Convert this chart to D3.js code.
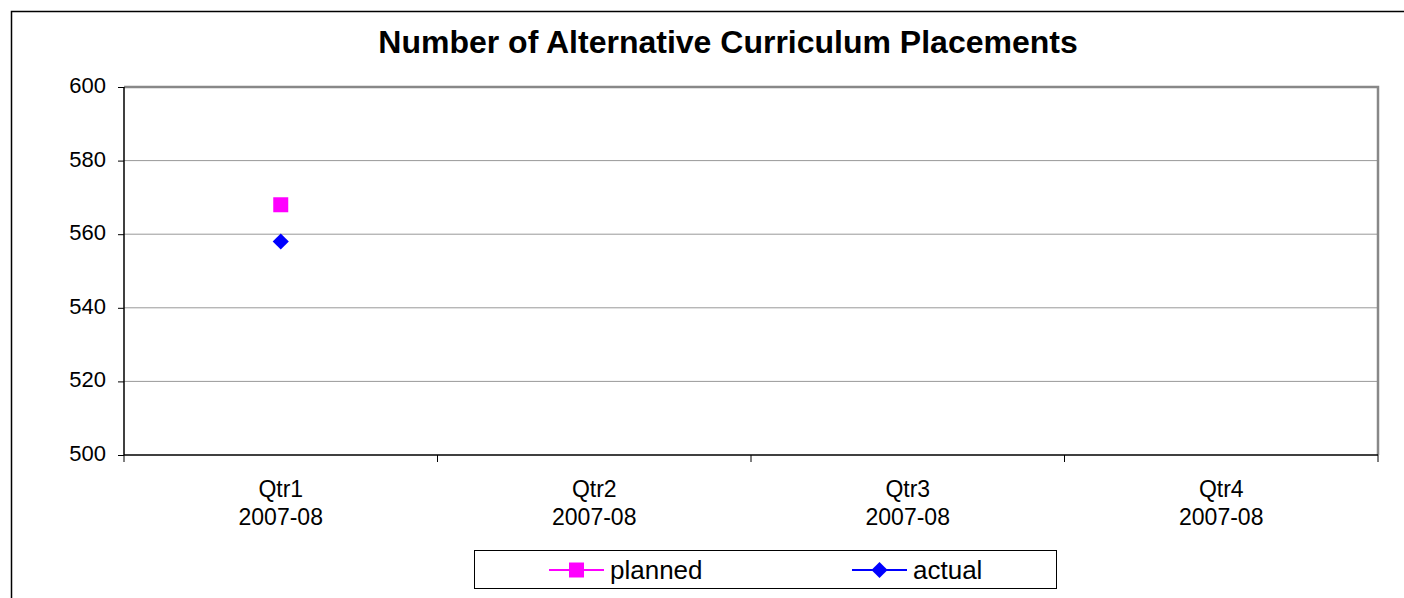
<!DOCTYPE html>
<html>
<head>
<meta charset="utf-8">
<script src="https://cdn.jsdelivr.net/npm/d3@7"></script>
<style>
  body { margin: 0; background: #fff; }
  text { font-family: Arial, "Liberation Sans", sans-serif; }
</style>
</head>
<body>
<svg id="chart" width="1404" height="598"></svg>
<script>
var categories = ["Qtr1|2007-08", "Qtr2|2007-08", "Qtr3|2007-08", "Qtr4|2007-08"];
var planned = [568, null, null, null];
var actual = [558, null, null, null];
var yTicks = [500, 520, 540, 560, 580, 600];
var seriesNames = ["planned", "actual"];
var seriesColors = ["#FF00FF", "#0000FF"];

var width = 1404, height = 598;
var margin = {left: 124, top: 87, right: 1378, bottom: 455};

var svg = d3.select("#chart");

// outer chart border (runs off right and bottom)
svg.append("rect")
    .attr("x", 11.5).attr("y", 11.5)
    .attr("width", width + 20).attr("height", height + 20)
    .attr("fill", "none").attr("stroke", "black").attr("stroke-width", 1.5);

svg.append("text")
    .attr("x", 728).attr("y", 53)
    .attr("text-anchor", "middle")
    .style("font-size", "32px").style("font-weight", "bold")
    .text("Number of Alternative Curriculum Placements");

var x = d3.scaleBand().domain(categories).range([margin.left, margin.right]);
var y = d3.scaleLinear().domain([500, 600]).range([margin.bottom, margin.top]);

// gridlines
svg.selectAll(".grid").data(yTicks.filter(function(d) { return d > 500 && d < 600; }))
    .enter().append("line")
    .attr("x1", margin.left).attr("x2", margin.right)
    .attr("y1", function(d) { return y(d); }).attr("y2", function(d) { return y(d); })
    .attr("stroke", "#999").attr("stroke-width", 1);

// plot frame top + right (gray)
svg.append("path")
    .attr("d", "M" + margin.left + "," + y(600) + "H" + margin.right + "V" + margin.bottom)
    .attr("fill", "none").attr("stroke", "#888").attr("stroke-width", 2.5);

// y axis
var yAxis = svg.append("g")
    .attr("transform", "translate(" + margin.left + ",0)")
    .call(d3.axisLeft(y).tickValues(yTicks).tickSize(6).tickPadding(12).tickFormat(d3.format("d")));
yAxis.select(".domain").attr("stroke", "black").attr("stroke-width", 1.5).attr("d", "M0," + y(600) + "V" + y(500));
yAxis.selectAll("line").attr("stroke", "black");
yAxis.selectAll("text").style("font-size", "22px").attr("fill", "black").attr("dy", "0.25em");

// x axis
var xAxis = svg.append("g")
    .attr("transform", "translate(0," + margin.bottom + ")");
xAxis.append("line")
    .attr("x1", margin.left).attr("x2", margin.right)
    .attr("stroke", "black").attr("stroke-width", 1.5);
var bounds = categories.map(function(c) { return x(c); }).concat([margin.right]);
xAxis.selectAll(".tick").data(bounds).enter().append("line")
    .attr("x1", function(d) { return d; }).attr("x2", function(d) { return d; })
    .attr("y1", 0).attr("y2", 7)
    .attr("stroke", "black");
var lbl = xAxis.selectAll(".lbl").data(categories).enter().append("text")
    .attr("text-anchor", "middle")
    .attr("x", function(d) { return x(d) + x.bandwidth() / 2; })
    .style("font-size", "23px");
lbl.append("tspan").attr("x", function(d) { return x(d) + x.bandwidth() / 2; })
    .attr("y", 42).text(function(d) { return d.split("|")[0]; });
lbl.append("tspan").attr("x", function(d) { return x(d) + x.bandwidth() / 2; })
    .attr("y", 70).text(function(d) { return d.split("|")[1]; });

var symSquare = d3.symbol().type(d3.symbolSquare).size(225);
var symDiamond = d3.symbol().type(d3.symbolSquare).size(130);

// markers
svg.selectAll(".planned").data(planned.map(function(v, i) { return {c: categories[i], v: v}; }).filter(function(d) { return d.v != null; }))
    .enter().append("path")
    .attr("d", symSquare)
    .attr("transform", function(d) { return "translate(" + (x(d.c) + x.bandwidth() / 2) + "," + y(d.v) + ")"; })
    .attr("fill", seriesColors[0]);

svg.selectAll(".actual").data(actual.map(function(v, i) { return {c: categories[i], v: v}; }).filter(function(d) { return d.v != null; }))
    .enter().append("path")
    .attr("d", symDiamond)
    .attr("transform", function(d) { return "translate(" + (x(d.c) + x.bandwidth() / 2) + "," + y(d.v) + ") rotate(45)"; })
    .attr("fill", seriesColors[1]);

// legend
var legend = svg.append("g");
legend.append("rect")
    .attr("x", 474.5).attr("y", 550.5).attr("width", 582).attr("height", 38)
    .attr("fill", "white").attr("stroke", "black").attr("stroke-width", 1);
var legX = [549, 852];
seriesNames.forEach(function(name, i) {
    var g = legend.append("g").attr("transform", "translate(" + legX[i] + ",570)");
    g.append("line").attr("x1", 0).attr("x2", 55).attr("stroke", seriesColors[i]).attr("stroke-width", 2);
    g.append("path").attr("d", i == 0 ? symSquare : symDiamond)
        .attr("transform", "translate(27.5,0)" + (i == 0 ? "" : " rotate(45)")).attr("fill", seriesColors[i]);
    g.append("text").attr("x", 61).attr("y", 9).style("font-size", "26px").text(name);
});
</script>
</body>
</html>
